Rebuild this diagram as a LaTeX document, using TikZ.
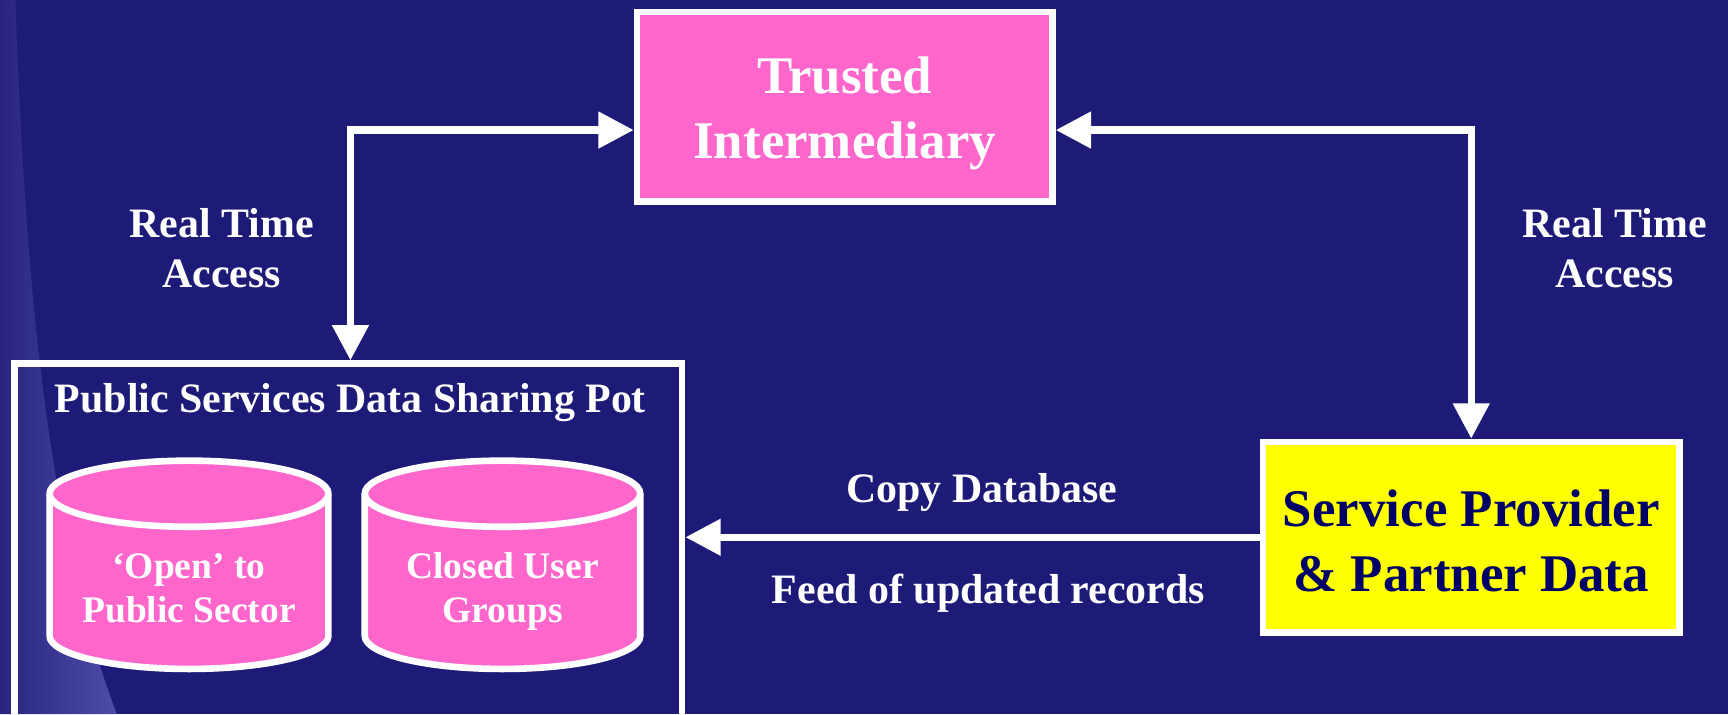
\documentclass[tikz,border=0pt]{standalone}
\usepackage{fontspec}
\setmainfont{Liberation Serif}
\usetikzlibrary{arrows.meta}
\definecolor{navy}{RGB}{30,26,120}
\definecolor{bandlight}{RGB}{78,76,168}
\definecolor{banddark}{RGB}{40,36,128}
\definecolor{pinkfill}{RGB}{255,102,204}
\definecolor{yellowfill}{RGB}{255,255,0}
\definecolor{darktext}{RGB}{0,0,102}
\tikzset{
  boxw/.style={draw=white, line width=6pt, inner sep=0pt},
  conn/.style={draw=white, line width=6.5pt},
  tipw/.tip={Triangle[width=32pt,length=32pt]},
  lbl/.style={text=white, font=\bfseries\fontsize{38}{45}\selectfont, align=center, inner sep=0pt},
  cyltxt/.style={text=white, font=\bfseries\fontsize{34}{40}\selectfont, align=center, inner sep=0pt},
  bigtxt/.style={font=\bfseries\fontsize{48}{59}\selectfont, align=center, inner sep=0pt},
  cylw/.style={fill=pinkfill, draw=white, line width=6pt}
}
\begin{document}
\begin{tikzpicture}[x=1pt,y=1pt]
\useasboundingbox (0,0) rectangle (1568,-648);
\clip (0,0) rectangle (1568,-648);
\fill[navy] (0,0) rectangle (1568,-648);
% decorative band at left
\shade[left color=banddark, right color=bandlight]
  (0,0) -- (14,0) .. controls (24,-300) and (50,-500) .. (106,-648) -- (0,-648) -- cycle;

% boxes
\node[boxw, fill=pinkfill, minimum width=377pt, minimum height=172pt] (trust) at (766.5,-97) {};
\node[bigtxt, text=white] (trusttxt) at (766.5,-103) {Trusted\\Intermediary};

\node[boxw, fill=yellowfill, minimum width=378pt, minimum height=173pt] (sp) at (1335,-487.5) {};
\node[bigtxt, text=darktext] (sptxt) at (1335,-491) {Service Provider\\\& Partner Data};

\node[boxw, minimum width=606pt, minimum height=407pt] (pot) at (316,-533.5) {};
\node[lbl] (pottitle) at (318,-365) {Public Services Data Sharing Pot};

% cylinders
\path[cylw] (45,-448) -- (45,-577) arc[start angle=180, end angle=360, x radius=126.5, y radius=30]
  -- (298,-448) arc[start angle=0, end angle=180, x radius=126.5, y radius=30] -- cycle;
\draw[white, line width=6pt] (45,-448) arc[start angle=180, end angle=360, x radius=126.5, y radius=30];
\node[cyltxt] (cyl1) at (171.5,-534) {‘Open’ to\\Public Sector};

\path[cylw] (331,-448) -- (331,-577) arc[start angle=180, end angle=360, x radius=125, y radius=30]
  -- (581,-448) arc[start angle=0, end angle=180, x radius=125, y radius=30] -- cycle;
\draw[white, line width=6pt] (331,-448) arc[start angle=180, end angle=360, x radius=125, y radius=30];
\node[cyltxt] (cyl2) at (456,-537) {Closed User\\Groups};

% connectors
\draw[conn, {tipw}-{tipw}] (pot.north -| 318,0) |- (trust.west |- 0,-118);
\draw[conn, {tipw}-{tipw}] (trust.east |- 0,-118) -| (sp.north);
\draw[conn, -{tipw}] (sp.west) -- (pot.east |- sp.west);

% labels
\node[lbl] (rtl) at (201,-225) {Real Time\\Access};
\node[lbl] (rtr) at (1465,-225) {Real Time\\Access};
\node[lbl] (copy) at (891,-447) {Copy Database};
\node[lbl] (feed) at (897,-538) {Feed of updated records};
\end{tikzpicture}
\end{document}
